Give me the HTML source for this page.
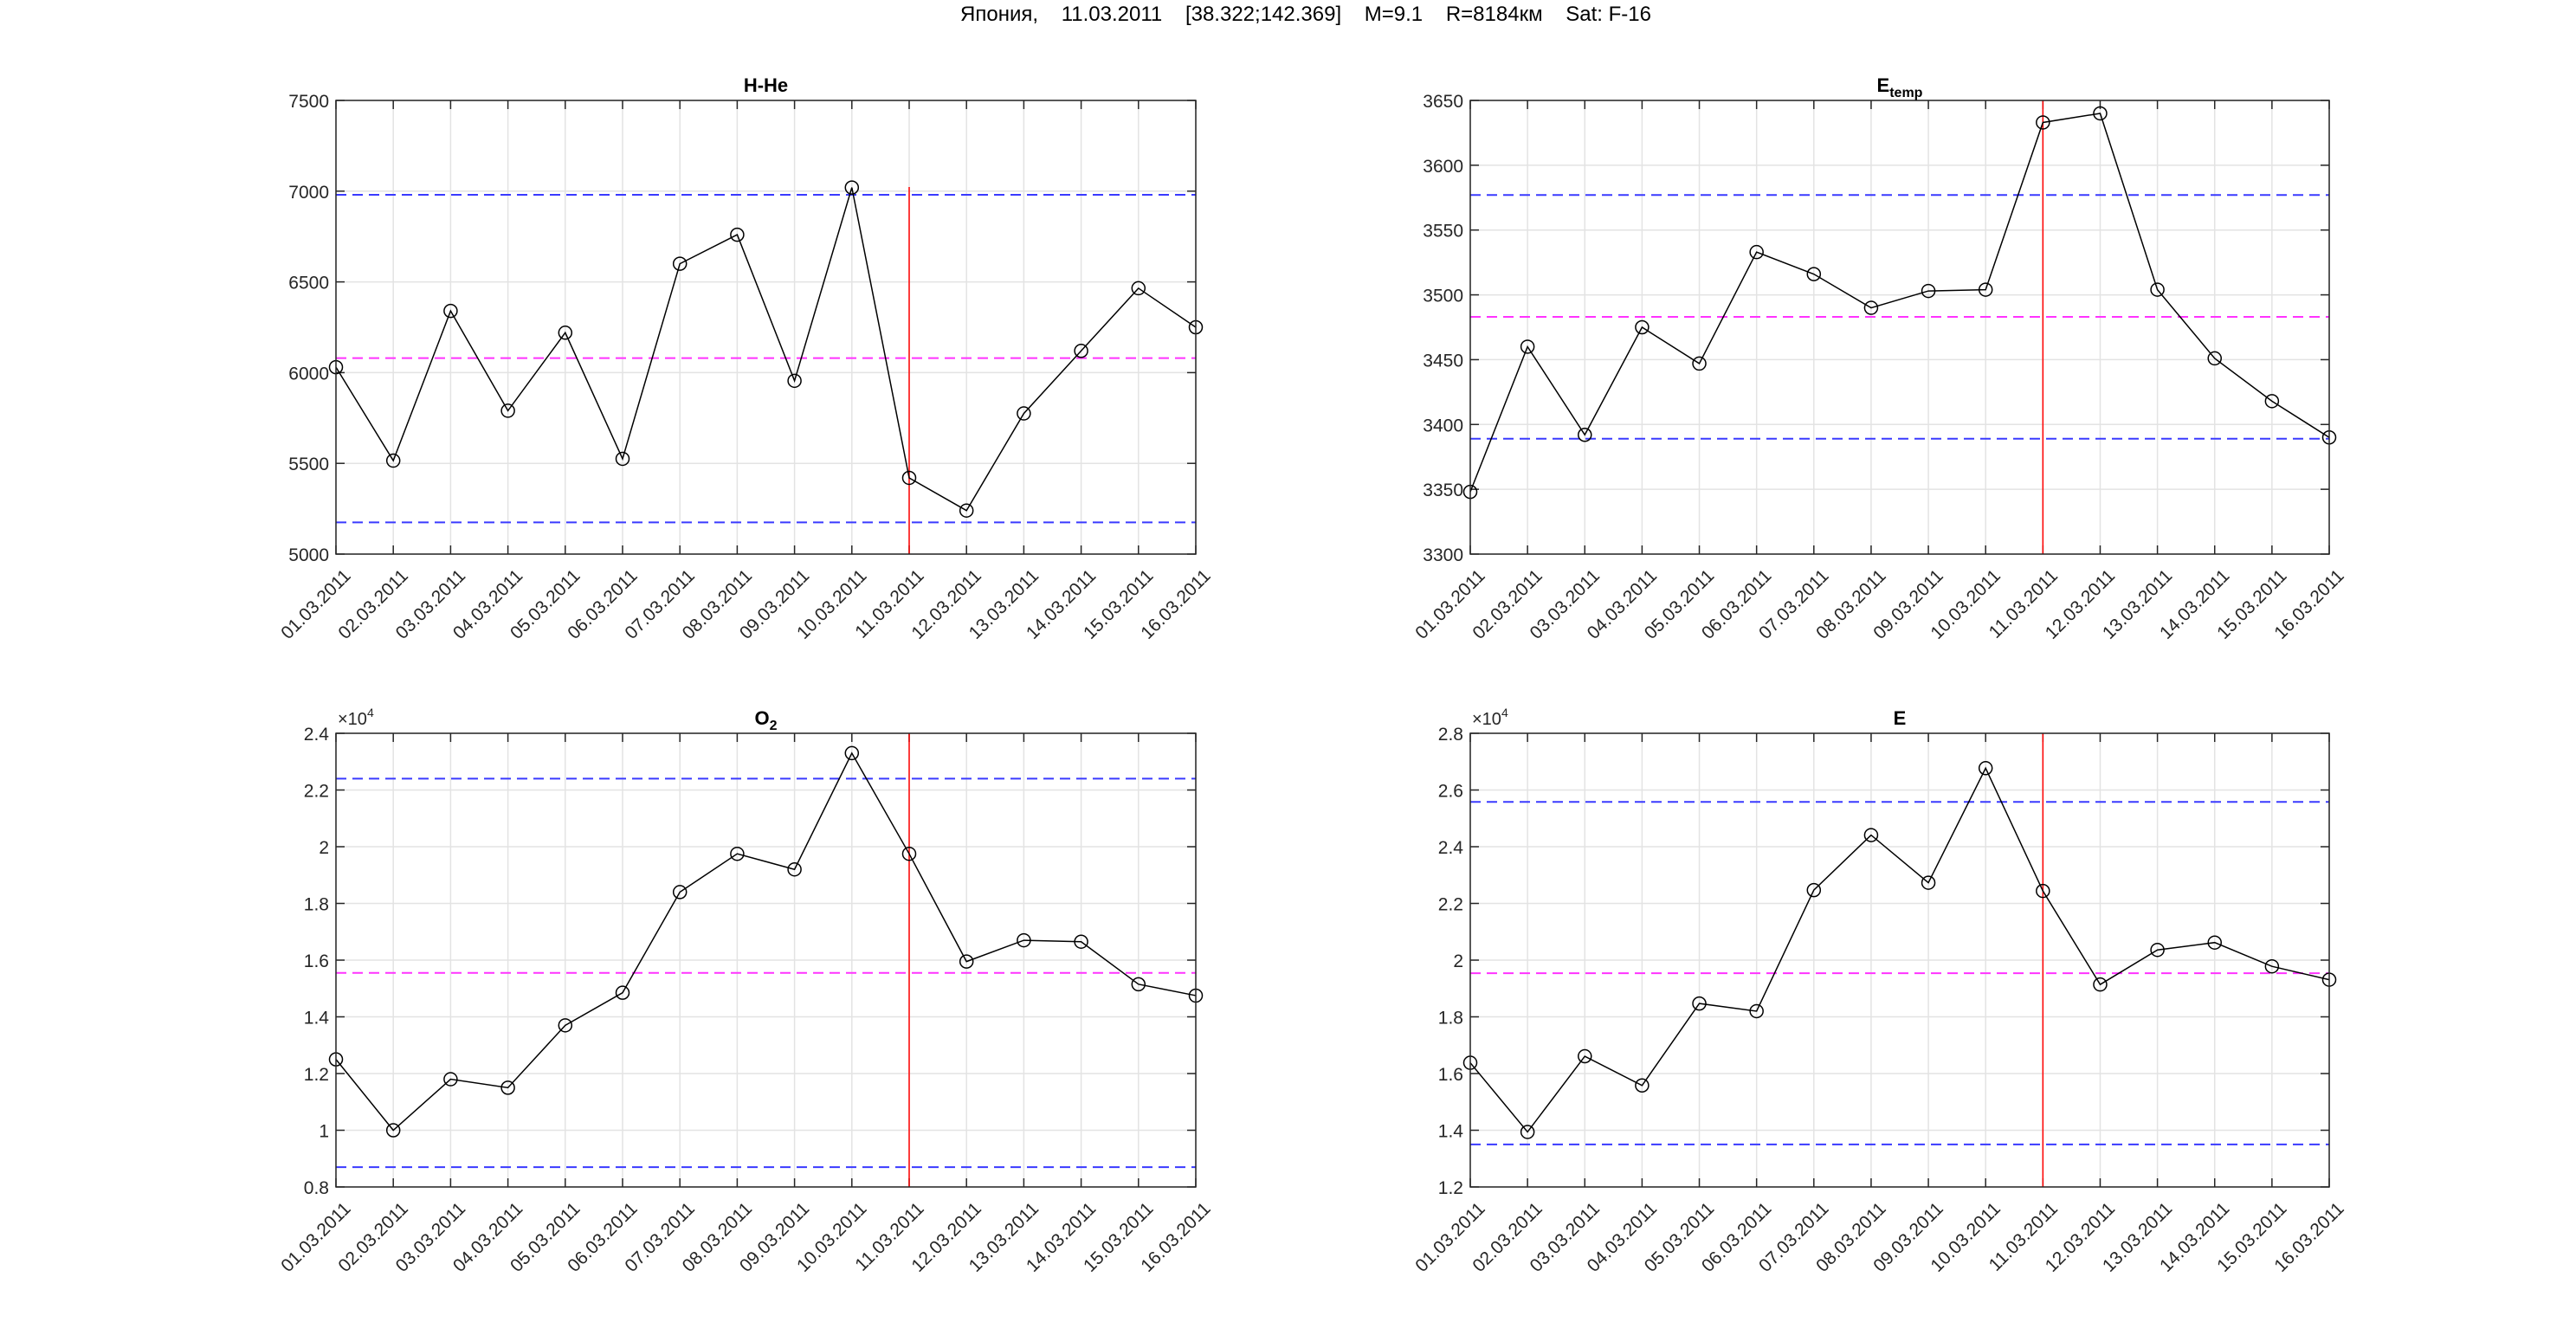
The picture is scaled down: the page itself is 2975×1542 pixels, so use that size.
<!DOCTYPE html>
<html><head><meta charset="utf-8">
<style>
html,body{margin:0;padding:0;background:#fff;}
svg{display:block;font-family:"Liberation Sans",Arial,sans-serif;}
</style></head>
<body>
<svg id="s" width="2975" height="1542" viewBox="0 0 2975 1542" xmlns="http://www.w3.org/2000/svg">
<rect width="2975" height="1542" fill="#fff"/>
<text x="1508" y="24" font-size="24" text-anchor="middle" fill="#000" xml:space="preserve">Япония,    11.03.2011    [38.322;142.369]    M=9.1    R=8184км    Sat: F-16</text>
</svg>
<script>
var dates=["01.03.2011","02.03.2011","03.03.2011","04.03.2011","05.03.2011","06.03.2011","07.03.2011","08.03.2011","09.03.2011","10.03.2011","11.03.2011","12.03.2011","13.03.2011","14.03.2011","15.03.2011","16.03.2011"];
var plots=[
{x:388,y:116,w:993,h:524,ymin:5000,ymax:7500,ticks:[5000,5500,6000,6500,7000,7500],labels:["5000","5500","6000","6500","7000","7500"],title:"H-He",
 d:[6030,5515,6340,5790,6220,5525,6600,6760,5955,7020,5420,5240,5775,6120,6465,6250],blue:[6980,5175],mag:6080,vtop:7023,exp:false},
{x:1698,y:116,w:992,h:524,ymin:3300,ymax:3650,ticks:[3300,3350,3400,3450,3500,3550,3600,3650],labels:["3300","3350","3400","3450","3500","3550","3600","3650"],title:"E",sub:"temp",
 d:[3348,3460,3392,3475,3447,3533,3516,3490,3503,3504,3633,3640,3504,3451,3418,3390],blue:[3577,3389],mag:3483,vtop:3650,exp:false},
{x:388,y:847,w:993,h:524,ymin:0.8,ymax:2.4,ticks:[0.8,1,1.2,1.4,1.6,1.8,2,2.2,2.4],labels:["0.8","1","1.2","1.4","1.6","1.8","2","2.2","2.4"],title:"O",sub:"2",
 d:[1.25,1.00,1.18,1.15,1.37,1.485,1.84,1.975,1.92,2.33,1.975,1.595,1.67,1.665,1.515,1.475],blue:[2.24,0.87],mag:1.555,vtop:2.4,exp:true},
{x:1698,y:847,w:992,h:524,ymin:1.2,ymax:2.8,ticks:[1.2,1.4,1.6,1.8,2,2.2,2.4,2.6,2.8],labels:["1.2","1.4","1.6","1.8","2","2.2","2.4","2.6","2.8"],title:"E",
 d:[1.638,1.394,1.661,1.558,1.847,1.820,2.247,2.441,2.273,2.677,2.244,1.914,2.036,2.062,1.978,1.931],blue:[2.558,1.350],mag:1.954,vtop:2.8,exp:true}
];
var s=document.getElementById('s'),NS="http://www.w3.org/2000/svg";
function el(t,a,txt){var e=document.createElementNS(NS,t);for(var k in a)e.setAttribute(k,a[k]);if(txt!=null)e.textContent=txt;s.appendChild(e);return e;}
plots.forEach(function(p){
 var X=function(i){return p.x+i*p.w/15;},Y=function(v){return p.y+p.h-(v-p.ymin)/(p.ymax-p.ymin)*p.h;};
 for(var i=0;i<16;i++){el('line',{x1:X(i),x2:X(i),y1:p.y,y2:p.y+p.h,stroke:'#e3e3e3','stroke-width':1.5});}
 p.ticks.forEach(function(t){el('line',{x1:p.x,x2:p.x+p.w,y1:Y(t),y2:Y(t),stroke:'#e3e3e3','stroke-width':1.5});});
 for(var i=0;i<16;i++){el('line',{x1:X(i),x2:X(i),y1:p.y+p.h,y2:p.y+p.h-10,stroke:'#262626','stroke-width':1.5});el('line',{x1:X(i),x2:X(i),y1:p.y,y2:p.y+10,stroke:'#262626','stroke-width':1.5});
  var tx=X(i)+8,ty=p.y+p.h+16;
  el('text',{x:tx,y:ty,'font-size':21,'text-anchor':'end',fill:'#262626','dominant-baseline':'hanging',transform:'rotate(-45 '+tx+' '+ty+')'},dates[i]);}
 p.ticks.forEach(function(t,j){el('line',{x1:p.x,x2:p.x+10,y1:Y(t),y2:Y(t),stroke:'#262626','stroke-width':1.5});el('line',{x1:p.x+p.w,x2:p.x+p.w-10,y1:Y(t),y2:Y(t),stroke:'#262626','stroke-width':1.5});
  el('text',{x:p.x-8,y:Y(t)+8,'font-size':21,'text-anchor':'end',fill:'#262626'},p.labels[j]);});
 p.blue.forEach(function(v){el('line',{x1:p.x,x2:p.x+p.w,y1:Y(v),y2:Y(v),stroke:'#3a3aff','stroke-width':2,'stroke-dasharray':'12 7'});});
 el('line',{x1:p.x,x2:p.x+p.w,y1:Y(p.mag),y2:Y(p.mag),stroke:'#ff33ff','stroke-width':2,'stroke-dasharray':'12 7'});
 el('line',{x1:X(10),x2:X(10),y1:Y(p.vtop),y2:p.y+p.h,stroke:'#ff0000','stroke-width':1.5});
 var pts=p.d.map(function(v,i){return X(i)+','+Y(v);}).join(' ');
 el('polyline',{points:pts,fill:'none',stroke:'#000','stroke-width':1.5});
 p.d.forEach(function(v,i){el('circle',{cx:X(i),cy:Y(v),r:7.5,fill:'none',stroke:'#000','stroke-width':1.5});});
 el('rect',{x:p.x,y:p.y,width:p.w,height:p.h,fill:'none',stroke:'#262626','stroke-width':1.5});
 var t=el('text',{x:p.x+p.w/2,y:p.y-10,'font-size':22,'font-weight':'bold','text-anchor':'middle',fill:'#000'},p.title);
 if(p.sub){var ts=document.createElementNS(NS,'tspan');ts.setAttribute('font-size',16);ts.setAttribute('dy',6);ts.textContent=p.sub;t.appendChild(ts);}
 if(p.exp){var e=el('text',{x:p.x+2,y:p.y-10,'font-size':20,fill:'#262626'},'×10');var sp=document.createElementNS(NS,'tspan');sp.setAttribute('font-size',14);sp.setAttribute('dy',-9);sp.textContent='4';e.appendChild(sp);}
});
</script>
</body></html>
